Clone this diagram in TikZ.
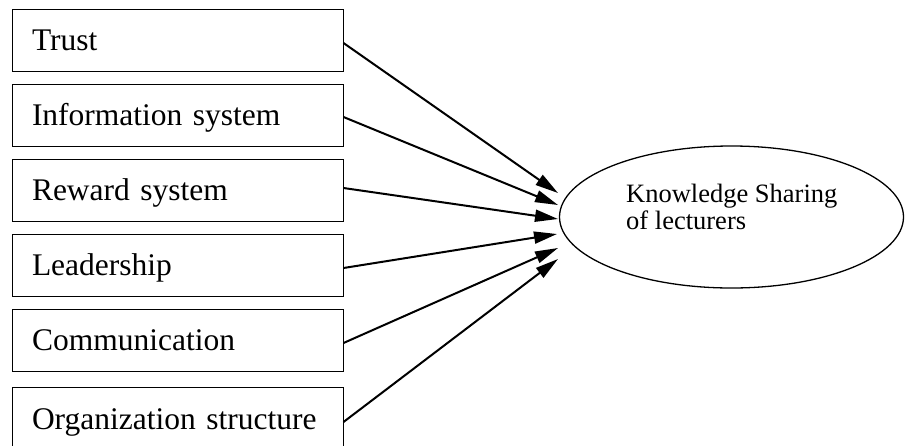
\documentclass[tikz,border=0pt]{standalone}
\usepackage{fontspec}
\setmainfont{Liberation Serif}
\usetikzlibrary{arrows.meta,shapes.geometric}
\tikzset{
  factor/.style={draw=black, line width=1pt, rectangle, minimum width=331pt, minimum height=62pt,
    inner xsep=20pt, inner ysep=0pt, text width=291pt, align=left, text height=21pt, text depth=0pt,
    font=\fontsize{31.5}{36}\selectfont},
  conn/.style={line width=2pt, -{Triangle[length=23pt,width=12pt]}},
  outcome/.style={draw=black, line width=1.3pt, ellipse, minimum width=344pt, minimum height=142pt, inner sep=0pt},
  otext/.style={anchor=base west, inner sep=0pt, align=left, font=\fontsize{26.5}{27}\selectfont}
}
\begin{document}
\begin{tikzpicture}[x=1pt,y=-1pt]
\useasboundingbox (0,0) rectangle (905,445);
\clip (0,0) rectangle (905,445);
\node[factor] (b1) at (177.5,40) {Trust};
\node[factor] (b2) at (177.5,115) {Information system};
\node[factor] (b3) at (177.5,190) {Reward system};
\node[factor] (b4) at (177.5,265) {Leadership};
\node[factor] (b5) at (177.5,340) {Communication};
\node[factor] (b6) at (177.5,418.5) {Organization structure};
\node[outcome] (k) at (731.5,217) {};
\node[otext] (kt) at (626,229) {Knowledge Sharing\\[0pt]of lecturers};
\coordinate (t1) at (558,193);
\coordinate (t2) at (558,205);
\coordinate (t3) at (558,219);
\coordinate (t4) at (557,234);
\coordinate (t5) at (558,248);
\coordinate (t6) at (558,259);
\draw[conn] ([yshift=-3pt]b1.east) -- (t1);
\draw[conn] ([yshift=-2pt]b2.east) -- (t2);
\draw[conn] ([yshift=2pt]b3.east) -- (t3);
\draw[conn] ([yshift=-3pt]b4.east) -- (t4);
\draw[conn] ([yshift=-3pt]b5.east) -- (t5);
\draw[conn] ([yshift=-3.5pt]b6.east) -- (t6);
\end{tikzpicture}
\end{document}
